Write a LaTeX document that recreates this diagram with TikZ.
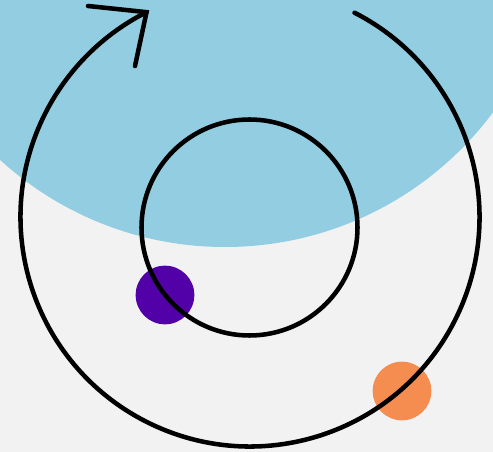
\documentclass[tikz,border=0pt]{standalone}
\usetikzlibrary{positioning}
\definecolor{skyblue}{HTML}{92CDE1}
\definecolor{bggrey}{HTML}{F2F2F2}
\definecolor{dotpurple}{HTML}{5200A8}
\definecolor{dotorange}{HTML}{F68D50}

\begin{document}
\begin{tikzpicture}[x=0.75pt,y=-0.75pt,
  loopline/.style={line width=3.4pt,line cap=round},
  dot/.style={circle,inner sep=0pt,minimum size=44pt}]
\useasboundingbox (0,0) rectangle (493,452);
\fill[bggrey] (0,0) rectangle (493,452);
\begin{scope}
  \clip (0,0) rectangle (493,452);
  \fill[skyblue] (225,-87) circle[radius=334];
\end{scope}

% dots sit under the loops
\node[dot,fill=dotpurple] (purple) at (165,295) {};
\node[dot,fill=dotorange] (orange) at (402,391) {};

\node[circle,draw,line width=3.4pt,inner sep=0pt,minimum size=162pt] (hub) at (249.5,227.5) {};

\coordinate (centre) at (250,217);
\draw[loopline] (centre) ++(-62.9:229.5) arc[start angle=-62.9,end angle=243.2,radius=229.5] coordinate (tip);
\coordinate (barbA) at (88,6);
\coordinate (barbB) at (135,66);
\draw[loopline,line join=miter] (barbA) -- (tip) -- (barbB);
\end{tikzpicture}
\end{document}
